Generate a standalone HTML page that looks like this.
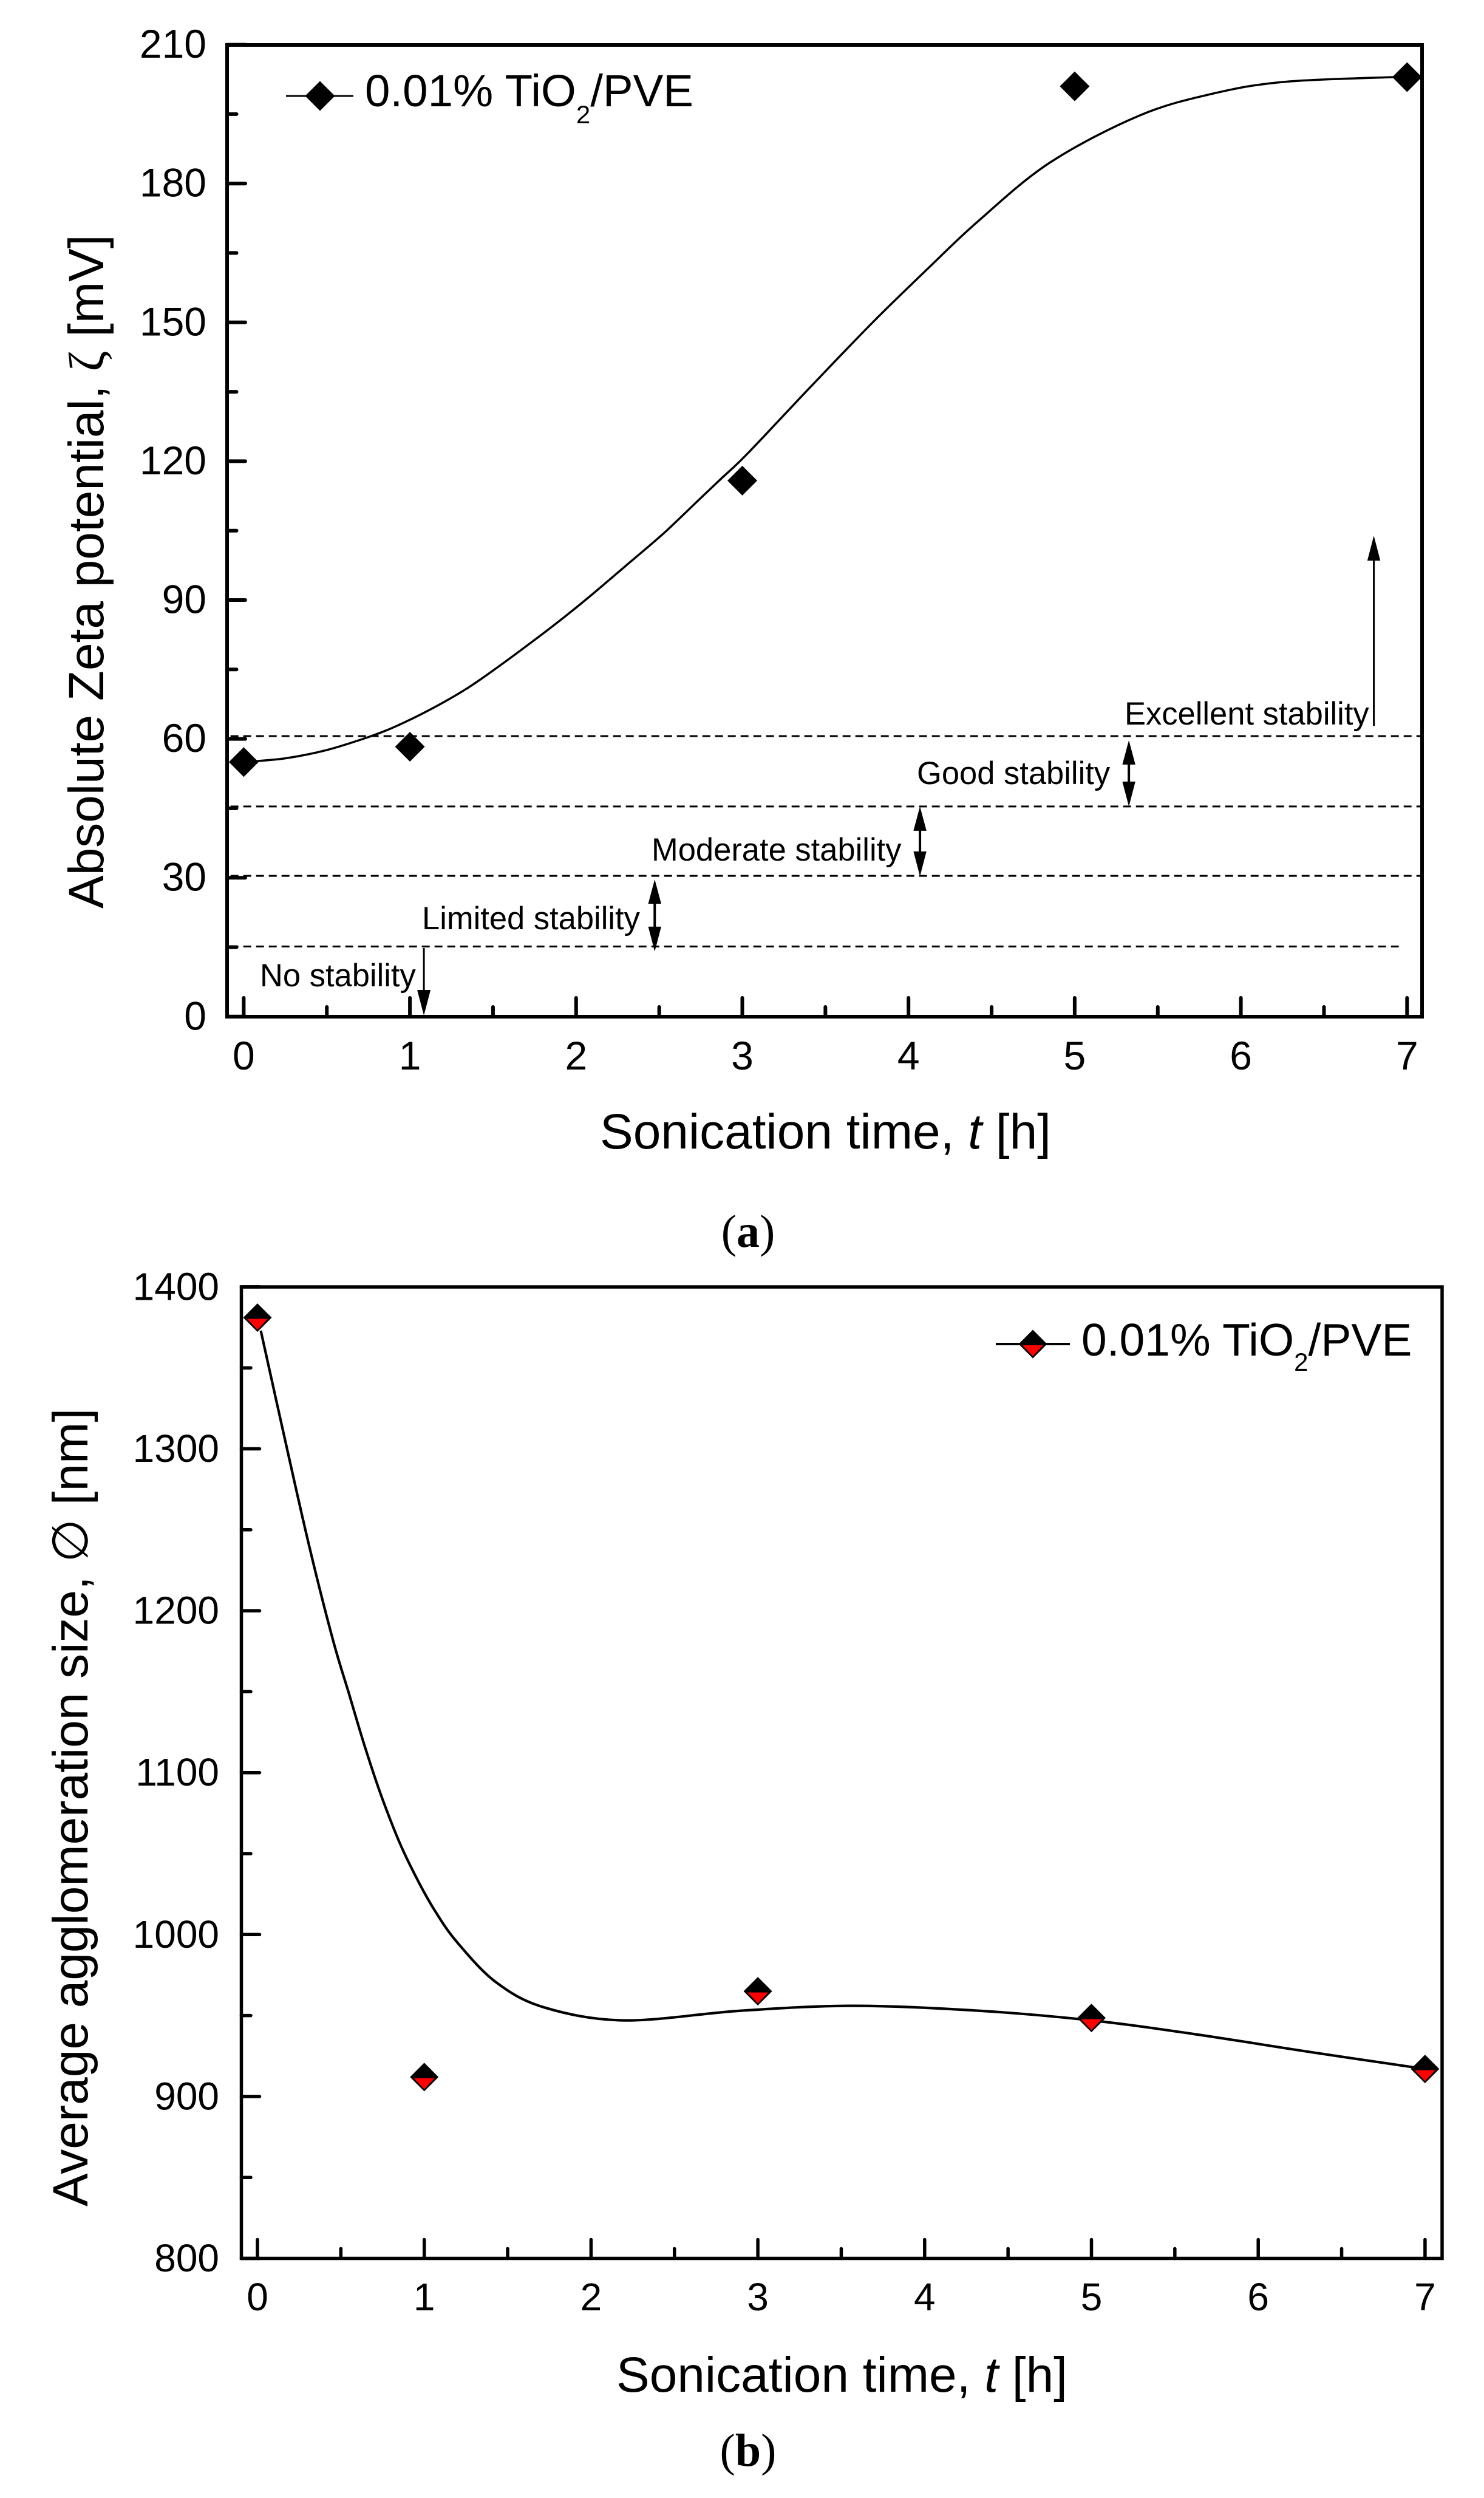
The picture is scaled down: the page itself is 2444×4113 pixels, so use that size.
<!DOCTYPE html>
<html lang="en">
<head>
<meta charset="utf-8">
<title>Zeta potential and agglomeration size vs sonication time</title>
<style>
html,body{margin:0;padding:0;background:#fff;}
svg{display:block;}
text{font-family:"Liberation Sans",Arial,sans-serif;fill:#000;}
.serif{font-family:"Liberation Serif","Times New Roman",serif;}
</style>
</head>
<body>
<svg id="fig" xmlns="http://www.w3.org/2000/svg" width="2444" height="4113" viewBox="0 0 2444 4113">
  <rect x="0" y="0" width="2444" height="4113" fill="#fff"/>

  <g id="panelA">
    <g id="aGrid"></g>
    <g id="aCurve"></g>
    <g id="aMarks"></g>
    <g id="aAxes"></g>
    <g id="aArrows"></g>
    <text transform="translate(170,1496) rotate(-90)" font-size="82">Absolute Zeta potential, <tspan class="serif">ζ</tspan> [mV]</text>
    <text x="988" y="1891" font-size="82">Sonication time, <tspan font-style="italic">t</tspan> [h]</text>
    <g>
      <line x1="471" y1="158" x2="582" y2="158" stroke="#000" stroke-width="3"/>
      <polygon points="527,133.500 551.500,158 527,182.500 502.500,158" fill="#000"/>
      <text x="601" y="175" font-size="74.500">0.01% TiO<tspan font-size="42" dy="28">2</tspan><tspan dy="-28">/PVE</tspan></text>
    </g>
    <text x="1852" y="1193" font-size="52.500">Excellent stability</text>
    <text x="1510" y="1291" font-size="52.500">Good stability</text>
    <text x="1073" y="1417" font-size="52.500">Moderate stability</text>
    <text x="695" y="1530" font-size="52.500">Limited stability</text>
    <text x="428" y="1624" font-size="52.500">No stability</text>
    <text class="serif" x="1232" y="2053" font-size="76" text-anchor="middle">(<tspan font-weight="bold">a</tspan>)</text>
  </g>

  <g id="panelB">
    <g id="bCurve"></g>
    <g id="bMarks"></g>
    <g id="bAxes"></g>
    <text transform="translate(144,3633) rotate(-90)" font-size="82">Average agglomeration size, <tspan class="serif">∅</tspan> [nm]</text>
    <text x="1015" y="3938" font-size="82">Sonication time, <tspan font-style="italic">t</tspan> [h]</text>
    <g>
      <line x1="1640" y1="2213" x2="1762" y2="2213" stroke="#000" stroke-width="4"/>
      <polygon points="1701,2189.500 1724.500,2213 1701,2236.500 1677.500,2213" fill="#000"/>
      <polygon points="1684,2215 1718,2215 1701,2233" fill="#f00"/>
      <text x="1781" y="2232" font-size="75">0.01% TiO<tspan font-size="42" dy="25">2</tspan><tspan dy="-25">/PVE</tspan></text>
    </g>
    <text class="serif" x="1232" y="4060" font-size="76" text-anchor="middle">(<tspan font-weight="bold">b</tspan>)</text>
  </g>
</svg>

<script>
// ---- shared x-axis data ----
const xTickLabels = ["0", "1", "2", "3", "4", "5", "6", "7"];
const xMinorTicks = [0.5, 1.5, 2.5, 3.5, 4.5, 5.5, 6.5];

// ---- panel (a): zeta potential ----
const zetaTimes = [0, 1, 3, 5, 7];
const zetaValues = [55, 58.3, 115.8, 201, 203];
const zetaCurveTimes = [0, 0.25, 0.5, 0.75, 0.908, 1.12, 1.33, 1.513, 1.71, 1.893, 2.076, 2.315, 2.526, 2.737, 2.878, 3.03, 3.43, 3.79, 4.11, 4.42, 4.85, 5.39, 5.84, 6.27, 6.93, 7];
const zetaCurveValues = [55, 55.8, 57.6, 60.4, 62.6, 66.3, 70.6, 75.1, 80.3, 85.3, 90.6, 97.9, 104.4, 111.6, 116.4, 121.6, 136.8, 150.2, 161.4, 171.9, 184.5, 194.7, 199.5, 202, 203, 203];
const zetaYTicks = [0, 30, 60, 90, 120, 150, 180, 210];
const zetaYMinor = [15, 45, 75, 105, 135, 165, 195];
const stabilityFull = [60.6, 45.4, 30.4];
const stabilityShort = [15.15];
const stabilityShortEnd = [6.95];
const arrowDoubleTimes = [2.473, 4.069, 5.326];
const arrowDoubleTop = [29.63, 45.4, 59.7];
const arrowDoubleBottom = [14.05, 30.3, 45.4];
const arrowDownTimes = [1.084];
const arrowDownTop = [14.8];
const arrowDownBottom = [0.24];
const arrowUpTimes = [6.8];
const arrowUpTop = [103.9];
const arrowUpBottom = [62.8];

// ---- panel (b): agglomeration size ----
const sizeTimes = [0, 1, 3, 5, 7];
const sizeValues = [1381, 912, 965, 948.5, 917];
const sizeCurveTimes = [0.02, 0.16, 0.31, 0.4525, 0.55, 0.641, 0.738, 0.847, 0.95, 1.065, 1.199, 1.43, 1.72, 2.2, 2.9, 3.58, 4.32, 5, 5.6, 6.31, 7];
const sizeCurveValues = [1373, 1308, 1240, 1182, 1148.3, 1117, 1087, 1058, 1035.7, 1014.5, 995, 970.6, 955, 947, 953, 956, 953, 947, 938.8, 927.5, 917];
const sizeYTicks = [800, 900, 1000, 1100, 1200, 1300, 1400];
const sizeYMinor = [850, 950, 1050, 1150, 1250, 1350];

const SVGNS = "http://www.w3.org/2000/svg";

function make(tag, parent, attrs) {
  const el = document.createElementNS(SVGNS, tag);
  for (const k in attrs) el.setAttribute(k, attrs[k]);
  parent.appendChild(el);
  return el;
}

// axis functions
function xA(t) { return 401.4 + 273.7 * t; }
function yA(v) { return 1673.8 - 7.62 * v; }
function xB(t) { return 424 + 274.7 * t; }
function yB(v) { return 3718.5 - 2.666 * (v - 800); }

function splinePath(ts, vs, fx, fy) {
  const p = ts.map(function (t, i) { return [fx(t), fy(vs[i])]; });
  let d = "M" + p[0][0].toFixed(1) + " " + p[0][1].toFixed(1);
  for (let i = 0; i < p.length - 1; i++) {
    const a = p[Math.max(i - 1, 0)], b = p[i], c = p[i + 1], e = p[Math.min(i + 2, p.length - 1)];
    const c1x = b[0] + (c[0] - a[0]) / 6, c1y = b[1] + (c[1] - a[1]) / 6;
    const c2x = c[0] - (e[0] - b[0]) / 6, c2y = c[1] - (e[1] - b[1]) / 6;
    d += " C" + c1x.toFixed(1) + " " + c1y.toFixed(1) + " " + c2x.toFixed(1) + " " + c2y.toFixed(1) + " " + c[0].toFixed(1) + " " + c[1].toFixed(1);
  }
  return d;
}

function drawAxes(group, box, fx, fy, yTicks, yMinor, xFont, xBase, yRight, yFont, strokeW, tickW) {
  const frame = make("rect", group, { x: box.l, y: box.t, width: box.r - box.l, height: box.b - box.t, fill: "none", stroke: "#000", "stroke-width": strokeW });
  
  

  xTickLabels.forEach(function (lab, i) {
    const x = fx(i);
    const tick = make("line", group, { x1: x, x2: x, y1: box.b, y2: box.b - 31, stroke: "#000", "stroke-width": tickW, "stroke-linecap": "round" });
    
    
    const txt = make("text", group, { x: x, y: xBase, "font-size": xFont, "text-anchor": "middle" });
    txt.textContent = lab;
    
    
  });
  xMinorTicks.forEach(function (t) {
    const x = fx(t);
    const tick = make("line", group, { x1: x, x2: x, y1: box.b, y2: box.b - 16, stroke: "#000", "stroke-width": tickW, "stroke-linecap": "round" });
    
    
  });
  yTicks.forEach(function (v) {
    const y = fy(v);
    const tick = make("line", group, { x1: box.l, x2: box.l + 30, y1: y, y2: y, stroke: "#000", "stroke-width": tickW, "stroke-linecap": "round" });
    
    
    const txt = make("text", group, { x: yRight, y: y + 21.5, "font-size": yFont, "text-anchor": "end" });
    txt.textContent = String(v);
    
    
  });
  yMinor.forEach(function (v) {
    const y = fy(v);
    const tick = make("line", group, { x1: box.l, x2: box.l + 15.5, y1: y, y2: y, stroke: "#000", "stroke-width": tickW, "stroke-linecap": "round" });
    
    
  });
}

// ---------- panel a ----------
const aGrid = document.getElementById("aGrid");
stabilityFull.forEach(function (v) {
  const l = make("line", aGrid, { x1: 379.7, x2: 2340, y1: yA(v), y2: yA(v), stroke: "#000", "stroke-width": 3, "stroke-dasharray": "13 8" });
  
  
});
stabilityShort.forEach(function (v, i) {
  const l = make("line", aGrid, { x1: 379.7, x2: xA(stabilityShortEnd[i]), y1: yA(v), y2: yA(v), stroke: "#000", "stroke-width": 3, "stroke-dasharray": "13 8" });
  
  
});

const aCurve = make("path", document.getElementById("aCurve"), { d: splinePath(zetaCurveTimes, zetaCurveValues, xA, yA), fill: "none", stroke: "#000", "stroke-width": 3.5 });



const aMarks = document.getElementById("aMarks");
zetaTimes.forEach(function (t, i) {
  const cx = xA(t), cy = yA(zetaValues[i]), h = 24.5;
  const m = make("polygon", aMarks, { points: cx + "," + (cy - h) + " " + (cx + h) + "," + cy + " " + cx + "," + (cy + h) + " " + (cx - h) + "," + cy, fill: "#000" });
  
  
});

drawAxes(document.getElementById("aAxes"), { l: 374, r: 2342, t: 74, b: 1674 }, xA, yA, zetaYTicks, zetaYMinor, 66, 1761, 340, 66, 6, 6);

const aArrows = document.getElementById("aArrows");
function arrowHead(tipX, tipY, dir, len, half) {
  const baseY = tipY + dir * len;
  const h = make("polygon", aArrows, { points: tipX + "," + tipY + " " + (tipX + half) + "," + baseY + " " + (tipX - half) + "," + baseY, fill: "#000" });
  
  
}
function arrowShaft(x, y1, y2, w) {
  const s = make("line", aArrows, { x1: x, x2: x, y1: y1, y2: y2, stroke: "#000", "stroke-width": w });
  
  
}
arrowDoubleTimes.forEach(function (t, i) {
  const x = xA(t), top = yA(arrowDoubleTop[i]), bot = yA(arrowDoubleBottom[i]);
  arrowShaft(x, top + 20, bot - 20, 4);
  arrowHead(x, top, 1, 40, 10.7);
  arrowHead(x, bot, -1, 41, 10.7);
});
arrowDownTimes.forEach(function (t, i) {
  const x = xA(t), top = yA(arrowDownTop[i]), bot = yA(arrowDownBottom[i]);
  arrowShaft(x, top, bot - 20, 3);
  arrowHead(x, bot, -1, 42, 11);
});
arrowUpTimes.forEach(function (t, i) {
  const x = xA(t), top = yA(arrowUpTop[i]), bot = yA(arrowUpBottom[i]);
  arrowShaft(x, top + 20, bot, 3);
  arrowHead(x, top, 1, 41, 10.7);
});

// ---------- panel b ----------
const bCurve = make("path", document.getElementById("bCurve"), { d: splinePath(sizeCurveTimes, sizeCurveValues, xB, yB), fill: "none", stroke: "#000", "stroke-width": 4.2 });



const bMarks = document.getElementById("bMarks");
sizeTimes.forEach(function (t, i) {
  const cx = xB(t), cy = yB(sizeValues[i]), h = 23.5;
  const m = make("polygon", bMarks, { points: cx + "," + (cy - h) + " " + (cx + h) + "," + cy + " " + cx + "," + (cy + h) + " " + (cx - h) + "," + cy, fill: "#000" });
  
  
  const r = make("polygon", bMarks, { points: (cx - 17) + "," + (cy + 2) + " " + (cx + 17) + "," + (cy + 2) + " " + cx + "," + (cy + 20), fill: "#f00" });
  
  
});

drawAxes(document.getElementById("bAxes"), { l: 397.5, r: 2375, t: 2119, b: 3718.5 }, xB, yB, sizeYTicks, sizeYMinor, 64, 3804, 361, 64, 5.5, 5.5);
</script>
</body>
</html>
